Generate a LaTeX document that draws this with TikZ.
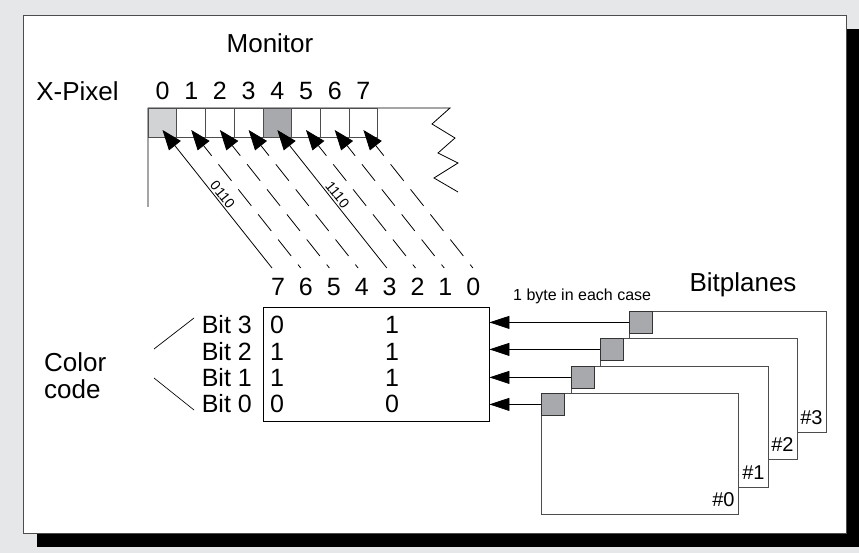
\documentclass[tikz,border=0pt]{standalone}
\usepackage{fontspec}
\setmainfont{Liberation Sans}
\usetikzlibrary{arrows.meta,calc}
\definecolor{bgc}{HTML}{E6E7E8}
\definecolor{lgc}{HTML}{D1D3D4}
\definecolor{dgc}{HTML}{A7A9AC}
\definecolor{edgec}{HTML}{4D4D4F}
\begin{document}
\begin{tikzpicture}[x=1pt,y=-1pt,
  >={Triangle[length=20pt,width=15pt]},
  txt/.style={inner sep=0pt, font=\fontsize{26}{26}\selectfont},
  dig/.style={inner sep=0pt, font=\fontsize{25}{25}\selectfont},
  small/.style={inner sep=0pt, font=\fontsize{20}{20}\selectfont},
  cell/.style={draw=edgec, line width=0.8pt, minimum width=28.7pt, minimum height=29pt, inner sep=0pt},
  parr/.style={<-, line width=0.8pt},
  dsh/.style={dash pattern=on 21pt off 11pt, dash phase=8pt},
  plane/.style={draw=edgec, fill=white, line width=0.8pt, minimum width=197pt, minimum height=121pt, inner sep=0pt},
  sqbox/.style={draw=black!80, fill=dgc, line width=0.8pt, minimum width=23pt, minimum height=22pt, inner sep=0pt},
  harr/.style={-{Triangle[length=20pt,width=13pt]}, line width=0.8pt}]
\useasboundingbox (0,0) rectangle (859,553);
\fill[bgc] (0,0) rectangle (859,553);
\fill[black] (37,29) rectangle (860,547);
\filldraw[fill=white, draw=edgec, line width=1pt] (23,16) rectangle (846,533);

% monitor
\node[txt] (mon) at (270,43) {Monitor};
\node[txt] (xp) at (77.5,91) {X-Pixel};
\draw[line width=0.8pt] (148,207) -- (148,108) -- (450,108) -- (432,124) -- (455,138) -- (438,153) -- (458,163) -- (434,178) -- (458,192);
\foreach \i/\f in {0/lgc,1/white,2/white,3/white,4/dgc,5/white,6/white,7/white} {
  \node[cell, fill=\f] (p\i) at ({162.5+28.7*\i},122.5) {};
  \node[dig] (px\i) at ({162.5+28.7*\i},91) {\i};
  \coordinate (t\i) at ({162.5+28.7*\i},130);
  \coordinate (b\i) at ({272+28.7*\i},268);
}
\draw[parr] (t0) -- node[sloped, above, pos=0.5, inner sep=1.5pt, font=\fontsize{14}{14}\selectfont] (l0) {0110} (b0);
\draw[parr] (t4) -- node[sloped, above, pos=0.5, inner sep=1.5pt, font=\fontsize{14}{14}\selectfont] (l4) {1110} (b4);
\foreach \i in {1,2,3,5,6,7} {
  \draw[parr, dsh] (t\i) -- (b\i);
}

% register
\foreach \k [count=\c from 0] in {7,6,5,4,3,2,1,0} {
  \node[dig] (r\k) at ({278+27.9*\c},287) {\k};
}
\node[draw, line width=0.8pt, minimum width=226pt, minimum height=114pt, inner sep=0pt] (reg) at (376,364) {};
\foreach \b/\y/\u/\v in {3/325/0/1, 2/352/1/1, 1/378/1/1, 0/404/0/0} {
  \node[dig, anchor=east] (bit\b) at (252,\y) {Bit \b};
  \node[dig] (va\b) at (277,\y) {\u};
  \node[dig] (vb\b) at (392,\y) {\v};
}
\node[anchor=west, align=left, inner sep=0pt, font=\fontsize{26}{26.3}\selectfont] (cc) at (44,375.7) {Color\\code};
\coordinate (cl1) at (154,349);
\coordinate (cu1) at (194,318);
\coordinate (cl2) at (154,378);
\coordinate (cu2) at (194,410);
\draw[line width=0.7pt] (cl1) -- (cu1);
\draw[line width=0.7pt] (cl2) -- (cu2);

% bitplanes
\node[txt] (bp) at (743,285) {Bitplanes};
\node[anchor=west, inner sep=0pt, font=\fontsize{16}{16}\selectfont] (byte) at (513,296) {1 byte in each case};
\foreach \k/\x/\y in {3/629/311, 2/600/338, 1/571/366, 0/541/393} {
  \node[plane, anchor=north west] (pl\k) at (\x,\y) {};
  \node[sqbox, anchor=north west] (sq\k) at (\x,\y) {};
  \node[small, anchor=east] (h\k) at ($(pl\k.south east)+(-4,-15)$) {\#\k};
  \draw[harr] (sq\k.west) -- (sq\k.west -| reg.east);
}
\end{tikzpicture}
\end{document}
